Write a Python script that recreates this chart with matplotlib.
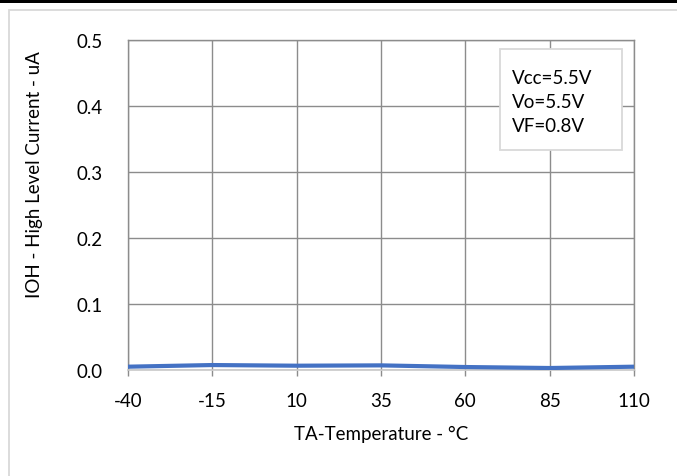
import matplotlib
matplotlib.use("Agg")
import matplotlib.pyplot as plt
from matplotlib.patches import Rectangle

plt.rcParams['font.family'] = ['Lato', 'DejaVu Sans']

# Temperature sweep and measured high-level output current (uA)
temperature = [-40, -15, 10, 35, 60, 85, 110]
ioh_ua = [0.005, 0.0075, 0.0065, 0.007, 0.0045, 0.003, 0.005]
x_ticks = [-40, -15, 10, 35, 60, 85, 110]
y_ticks = [0.0, 0.1, 0.2, 0.3, 0.4, 0.5]
conditions = ["Vcc=5.5V", "Vo=5.5V", "VF=0.8V"]

W, H = 677, 477
FS = 13.5
fig = plt.figure(figsize=(W / 100, H / 100), dpi=100)
fig.patch.set_facecolor("white")


def fx(px):
    return px / W


def fy(py):
    return 1 - py / H


# black rule across the top and light chart-area border
fig.add_artist(Rectangle((0, fy(3.5)), 1, 3.5 / H, transform=fig.transFigure,
                         facecolor="black", edgecolor="none"))
fig.add_artist(Rectangle((fx(8.5), -0.1), 1.2, fy(11) + 0.1, transform=fig.transFigure,
                         facecolor="none", edgecolor="#D9D9D9", linewidth=1.3))

ax = fig.add_axes([fx(128), fy(371), fx(634) - fx(128), fy(40.5) - fy(371)])

ax.plot(temperature, ioh_ua, color="#4472C4", linewidth=3, solid_capstyle="butt", zorder=3)

ax.set_xlim(-40, 110)
ax.set_ylim(0, 0.5)
ax.set_xticks(x_ticks)
ax.set_xticklabels([str(t) for t in x_ticks])
ax.set_yticks(y_ticks)
ax.set_yticklabels([f"{v:.1f}" for v in y_ticks])

ax.grid(True, color="#8C8C8C", linewidth=1.0)
ax.set_axisbelow(True)
for side in ("top", "left", "right"):
    ax.spines[side].set_color("#8C8C8C")
    ax.spines[side].set_linewidth(1.0)
ax.spines["bottom"].set_color("#C8C8C8")
ax.spines["bottom"].set_linewidth(1.2)

ax.tick_params(axis="x", length=4, width=1.0, color="#8C8C8C", pad=12, labelsize=FS)
ax.tick_params(axis="y", length=0, pad=18.5, labelsize=FS)

fig.text(fx(381), fy(434), "TA-Temperature - °C", fontsize=FS, ha="center", va="center")
fig.text(fx(35), fy(175), "IOH - High Level Current - uA", fontsize=FS,
         ha="center", va="center", rotation=90)

# operating-condition annotation box
fig.add_artist(Rectangle((fx(500), fy(151)), fx(622) - fx(500), fy(50) - fy(151),
                         transform=fig.transFigure, facecolor="white",
                         edgecolor="#D9D9D9", linewidth=1.3, zorder=4))
for i, line in enumerate(conditions):
    fig.text(fx(512), fy(78 + 24.5 * i), line, fontsize=FS, ha="left", va="center", zorder=5)

fig.savefig("out.png", dpi=100, facecolor="white")
